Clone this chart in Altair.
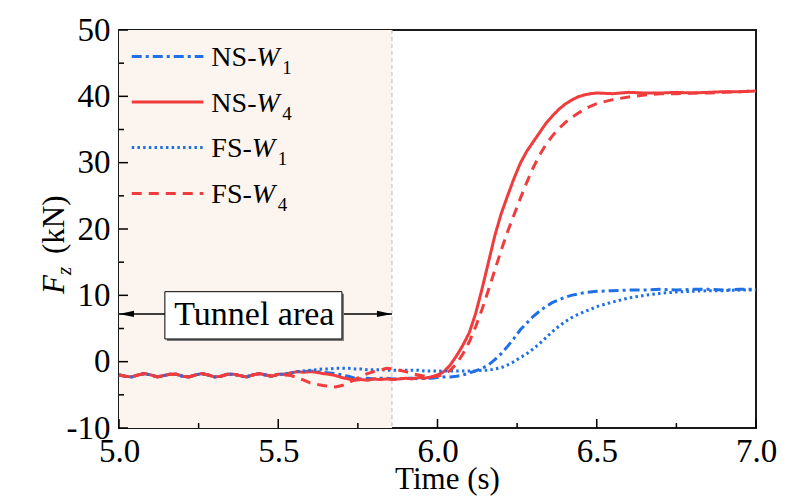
import altair as alt
import pandas as pd

# ---------------- data ----------------
series = ["NS-W1", "NS-W4", "FS-W1", "FS-W4"]

t_base = [5.00, 5.02, 5.04, 5.06, 5.08, 5.10, 5.12, 5.14, 5.16, 5.18, 5.20, 5.22, 5.24,
          5.26, 5.28, 5.30, 5.32, 5.34, 5.36, 5.38, 5.40, 5.42, 5.44, 5.46, 5.48, 5.50]
v_base = [-2.0, -2.2, -2.3, -2.0, -1.8, -2.0, -2.3, -2.1, -1.9, -1.9, -2.2, -2.3, -2.0,
          -1.8, -2.0, -2.3, -2.2, -1.9, -1.9, -2.1, -2.3, -2.0, -1.8, -2.0, -2.2, -1.9]

t_tail = [5.52, 5.54, 5.56, 5.58, 5.60, 5.62, 5.64, 5.66, 5.68, 5.70,
          5.72, 5.74, 5.76, 5.78, 5.80, 5.82, 5.84, 5.86, 5.88, 5.90,
          5.92, 5.94, 5.96, 5.98, 6.00, 6.02, 6.04, 6.06, 6.08, 6.10,
          6.12, 6.14, 6.16, 6.18, 6.20, 6.22, 6.24, 6.26, 6.28, 6.30,
          6.32, 6.34, 6.36, 6.38, 6.40, 6.42, 6.44, 6.46, 6.48, 6.50,
          6.55, 6.60, 6.65, 6.70, 6.75, 6.80, 6.85, 6.90, 6.95, 7.00]

ns_w1_tail = [-1.9, -1.7, -1.5, -1.5, -1.4, -1.5, -1.6, -1.7, -1.8, -2.0,
              -2.2, -2.5, -2.6, -2.5, -2.6, -2.5, -2.5, -2.6, -2.6, -2.5,
              -2.5, -2.6, -2.5, -2.5, -2.4, -2.3, -2.3, -2.2, -2.0, -1.7,
              -1.4, -1.0, -0.5, 0.3, 1.2, 2.3, 3.5, 4.8, 5.8, 6.8,
              7.6, 8.3, 8.9, 9.3, 9.7, 10.0, 10.2, 10.4, 10.5, 10.6,
              10.7, 10.8, 10.8, 10.9, 10.8, 10.9, 10.9, 10.8, 10.9, 10.9]

ns_w4_tail = [-1.9, -1.7, -1.5, -1.6, -1.5, -1.6, -1.8, -1.9, -2.1, -2.4,
              -2.6, -2.8, -2.7, -2.8, -2.6, -2.7, -2.6, -2.7, -2.6, -2.5,
              -2.6, -2.4, -2.5, -2.3, -2.0, -1.5, -0.5, 0.9, 2.5, 4.4,
              7.3, 11.0, 15.0, 19.0, 22.3, 25.0, 27.6, 29.9, 31.7, 33.1,
              34.5, 35.9, 37.0, 38.0, 38.8, 39.4, 39.9, 40.2, 40.4, 40.5,
              40.4, 40.6, 40.5, 40.5, 40.6, 40.5, 40.6, 40.7, 40.7, 40.8]

fs_w1_tail = [-1.9, -1.7, -1.5, -1.4, -1.3, -1.2, -1.1, -1.1, -1.0, -1.0,
              -1.0, -1.1, -1.1, -1.2, -1.2, -1.2, -1.3, -1.3, -1.3, -1.3,
              -1.3, -1.3, -1.4, -1.4, -1.4, -1.4, -1.4, -1.4, -1.4, -1.4,
              -1.4, -1.3, -1.3, -1.1, -0.9, -0.5, 0.0, 0.6, 1.2, 1.9,
              2.7, 3.6, 4.5, 5.3, 6.0, 6.6, 7.1, 7.5, 7.9, 8.3,
              9.0, 9.6, 10.0, 10.3, 10.5, 10.6, 10.7, 10.7, 10.8, 10.8]

fs_w4_tail = [-2.0, -2.1, -2.4, -2.8, -3.2, -3.4, -3.6, -3.7, -3.8, -3.6,
              -3.2, -2.7, -2.2, -1.8, -1.5, -1.3, -1.0, -1.1, -1.3, -1.5,
              -1.8, -2.0, -2.2, -2.3, -2.2, -1.9, -1.3, -0.3, 1.2, 3.0,
              5.3, 7.9, 10.8, 13.8, 16.8, 19.6, 22.1, 24.6, 27.0, 29.2,
              31.1, 32.7, 34.0, 35.1, 36.0, 36.8, 37.4, 38.0, 38.5, 38.9,
              39.5, 39.9, 40.2, 40.4, 40.4, 40.5, 40.5, 40.6, 40.7, 40.8]

tails = {"NS-W1": ns_w1_tail, "NS-W4": ns_w4_tail, "FS-W1": fs_w1_tail, "FS-W4": fs_w4_tail}

x_ticks_major = [5.0, 5.5, 6.0, 6.5, 7.0]
x_ticks_minor = [5.25, 5.75, 6.25, 6.75]
y_ticks_major = [-10, 0, 10, 20, 30, 40, 50]
y_ticks_minor = [-5, 5, 15, 25, 35, 45]

tunnel_start, tunnel_end = 5.0, 5.857
legend_prefix = ["NS-", "NS-", "FS-", "FS-"]
legend_sub = ["1", "4", "1", "4"]

# ---------------- styles ----------------
BLUE = "#1f6fe6"
RED = "#f03c3c"
colors = [BLUE, RED, BLUE, RED]
dashes = [[10, 4, 3, 4], [1, 0], [2.5, 3.2], [10, 7]]
widths = [3, 3, 2.5, 2]
FONT = "Liberation Serif"
W, H = 637, 398

rows = []
for s in series:
    vals = v_base + tails[s]
    ts = t_base + t_tail
    for t, v in zip(ts, vals):
        rows.append({"t": t, "v": v, "series": s})
df = pd.DataFrame(rows)

cscale = alt.Scale(domain=series, range=colors)
dscale = alt.Scale(domain=series, range=dashes)
wscale = alt.Scale(domain=series, range=widths)

xs = alt.Scale(domain=[5, 7], nice=False, zero=False)
ys = alt.Scale(domain=[-10, 50], nice=False, zero=False)

X = alt.X("t:Q", scale=xs, axis=alt.Axis(values=x_ticks_major, labelExpr="format(datum.value, '.1f')",
                                        title="Time (s)",
                                        labelPadding=7, titleFontSize=31, titleFontWeight="normal",
                                        titleFont=FONT, titleColor="black", titleX=328, titleY=60,
                                        titleBaseline="alphabetic", titleAlign="center"))
Y = alt.Y("v:Q", scale=ys, axis=alt.Axis(values=y_ticks_major, labelExpr="'' + datum.value",
                                        title=None, labelPadding=9))

# tunnel shading
shade = alt.Chart(pd.DataFrame({"t": [tunnel_start], "t2": [tunnel_end]})).mark_rect(
    color="#fcf5ef").encode(x=alt.X("t:Q", scale=xs), x2="t2:Q", y=alt.value(0), y2=alt.value(H))
boundary = alt.Chart(pd.DataFrame({"t": [tunnel_end]})).mark_rule(
    color="#c8c8c8", strokeDash=[4, 3], strokeWidth=1.2).encode(
    x=alt.X("t:Q", scale=xs), y=alt.value(0), y2=alt.value(H))

lines = alt.Chart(df).mark_line(strokeCap="butt").encode(
    x=X, y=Y,
    color=alt.Color("series:N", scale=cscale, legend=None),
    strokeDash=alt.StrokeDash("series:N", scale=dscale, legend=None),
    strokeWidth=alt.StrokeWidth("series:N", scale=wscale, legend=None),
    order=alt.Order("t:Q"),
)

# annotation: Tunnel area
arrow_v = 7.19
arrow = alt.Chart(pd.DataFrame({"t": [tunnel_start], "t2": [tunnel_end], "v": [arrow_v]})).mark_rule(
    color="black", strokeWidth=1.5).encode(x=alt.X("t:Q", scale=xs), x2="t2:Q", y=alt.Y("v:Q", scale=ys))
box_df = pd.DataFrame({"t": [5.144], "t2": [5.70], "v": [3.42], "v2": [10.55]})
box_shadow = alt.Chart(box_df).mark_rect(color="#7a7a7a", xOffset=2, x2Offset=2, yOffset=2, y2Offset=2).encode(
    x=alt.X("t:Q", scale=xs), x2="t2:Q", y=alt.Y("v:Q", scale=ys), y2="v2:Q")
box = alt.Chart(box_df).mark_rect(fill="white", stroke="black", strokeWidth=1).encode(
    x=alt.X("t:Q", scale=xs), x2="t2:Q", y=alt.Y("v:Q", scale=ys), y2="v2:Q")
box_text = alt.Chart(pd.DataFrame({"t": [5.425], "v": [5.53]})).mark_text(
    text="Tunnel area", font=FONT, fontSize=34, color="black", align="center", baseline="alphabetic").encode(
    x=alt.X("t:Q", scale=xs), y=alt.Y("v:Q", scale=ys))
head_l = alt.Chart(pd.DataFrame({"t": [tunnel_start], "v": [arrow_v]})).mark_point(
    shape="M-1,0L1,-0.42L1,0.42Z", size=225, filled=True, color="black", opacity=1, xOffset=7.5).encode(
    x=alt.X("t:Q", scale=xs), y=alt.Y("v:Q", scale=ys))
head_r = alt.Chart(pd.DataFrame({"t": [tunnel_end], "v": [arrow_v]})).mark_point(
    shape="M1,0L-1,-0.42L-1,0.42Z", size=225, filled=True, color="black", opacity=1, xOffset=-7.5).encode(
    x=alt.X("t:Q", scale=xs), y=alt.Y("v:Q", scale=ys))

# custom legend
leg_rows = [46.0, 39.15, 32.3, 25.35]
leg_df = pd.DataFrame({"series": series, "t": [5.04] * 4, "t2": [5.265] * 4, "v": leg_rows})
leg_lines = alt.Chart(leg_df).mark_rule(strokeCap="butt").encode(
    x=alt.X("t:Q", scale=xs), x2="t2:Q", y=alt.Y("v:Q", scale=ys),
    color=alt.Color("series:N", scale=cscale, legend=None),
    strokeDash=alt.StrokeDash("series:N", scale=dscale, legend=None),
    strokeWidth=alt.StrokeWidth("series:N", scale=wscale, legend=None))

leg_texts = []
for i in range(4):
    base_v = leg_rows[i] - 1.45
    pdf = pd.DataFrame({"t": [5.29], "v": [base_v]})
    pre_w = 45 if legend_prefix[i] == "NS-" else 40.5
    enc = dict(x=alt.X("t:Q", scale=xs), y=alt.Y("v:Q", scale=ys))
    leg_texts.append(alt.Chart(pdf).mark_text(text=legend_prefix[i], font=FONT, fontSize=28, color="black",
                                              align="left", baseline="alphabetic").encode(**enc))
    leg_texts.append(alt.Chart(pdf).mark_text(text="W", font=FONT, fontSize=28, fontStyle="italic",
                                              color="black", align="left", baseline="alphabetic",
                                              dx=pre_w).encode(**enc))
    leg_texts.append(alt.Chart(pdf).mark_text(text=legend_sub[i], font=FONT, fontSize=19, color="black",
                                              align="left", baseline="alphabetic", dx=pre_w + 26,
                                              dy=8).encode(**enc))

# inward ticks
def xtick(vals, length):
    return alt.Chart(pd.DataFrame({"t": vals})).mark_rule(color="black", strokeWidth=1.5).encode(
        x=alt.X("t:Q", scale=xs), y=alt.value(H), y2=alt.value(H - length))

def ytick(vals, length):
    return alt.Chart(pd.DataFrame({"v": vals})).mark_rule(color="black", strokeWidth=1.5).encode(
        y=alt.Y("v:Q", scale=ys), x=alt.value(0), x2=alt.value(length))

# y-axis title: F_z (kN)
one = pd.DataFrame({"a": [0]})
yt_F = alt.Chart(one).mark_text(text="F", font=FONT, fontSize=31, fontStyle="italic", angle=270,
                                align="left", baseline="alphabetic", color="black").encode(
    x=alt.value(-55), y=alt.value(264))
yt_z = alt.Chart(one).mark_text(text="z", font=FONT, fontSize=21, fontStyle="italic", angle=270,
                                align="left", baseline="alphabetic", color="black").encode(
    x=alt.value(-48), y=alt.value(245))
yt_kN = alt.Chart(one).mark_text(text="(kN)", font=FONT, fontSize=31, angle=270,
                                 align="left", baseline="alphabetic", color="black").encode(
    x=alt.value(-55), y=alt.value(224))

chart = alt.layer(
    shade, boundary, lines, arrow, box_shadow, box, box_text, head_l, head_r,
    leg_lines, *leg_texts,
    xtick(x_ticks_major, 9), xtick(x_ticks_minor, 5), ytick(y_ticks_major, 9), ytick(y_ticks_minor, 5),
    yt_F, yt_z, yt_kN,
).properties(
    width=W, height=H,
    padding={"left": 111, "top": 22, "right": 43, "bottom": 70},
    autosize=alt.AutoSizeParams(type="none"),
    background="white",
).configure(font=FONT).configure_view(
    stroke="#1a1a1a", strokeWidth=2
).configure_axis(
    labelFont=FONT, labelFontSize=33, labelColor="black", domain=False, ticks=False, grid=False,
    labelFlush=False, labelOverlap=False,
)

chart.save("out.html", embed_options={"renderer": "svg", "actions": False})
